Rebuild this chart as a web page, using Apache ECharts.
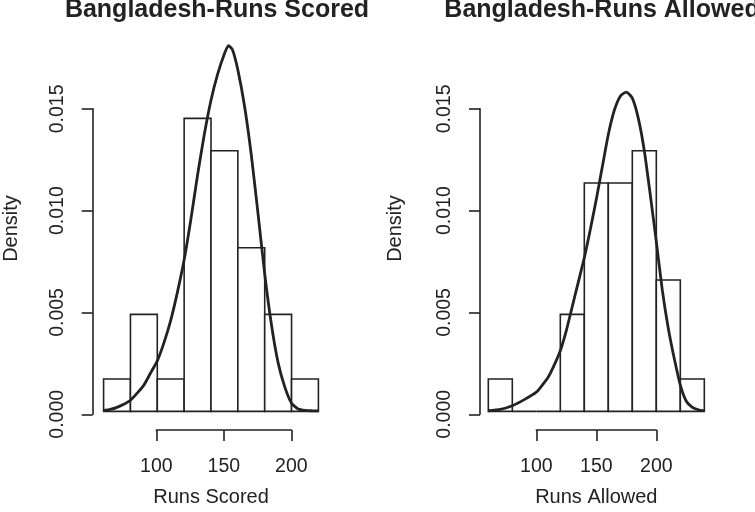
<!DOCTYPE html>
<html>
<head>
<meta charset="utf-8">
<script src="https://cdn.jsdelivr.net/npm/echarts@6/dist/echarts.min.js"></script>
<style>html,body{margin:0;padding:0;background:#fff}#c{width:755px;height:512px}</style>
</head>
<body>
<div id="c"></div>
<script>
// ---- data ----
const titles = ['Bangladesh-Runs Scored', 'Bangladesh-Runs Allowed'];
const xNames = ['Runs Scored', 'Runs Allowed'];
const yName = 'Density';

const scoredBinEdges = [60, 80, 100, 120, 140, 160, 180, 200, 220];
const scoredDensity = [0.0016, 0.0048, 0.0016, 0.0145, 0.0129, 0.0081, 0.0048, 0.0016];
const scoredCurveX = [60, 65, 70, 75, 80, 85, 90, 95, 100, 105, 110, 115, 120, 125, 130, 135, 140, 145, 150, 153, 156, 160, 165, 170, 175, 180, 185, 190, 195, 200, 205, 210, 215, 220];
const scoredCurveY = [0.00005, 0.0001, 0.0002, 0.00035, 0.00055, 0.0009, 0.0013, 0.0019, 0.0025, 0.0034, 0.0045, 0.0059, 0.0075, 0.0095, 0.0117, 0.0137, 0.0154, 0.0167, 0.0177, 0.0181, 0.0179, 0.0169, 0.0151, 0.0127, 0.0098, 0.0068, 0.0043, 0.0024, 0.0012, 0.0004, 0.00012, 0.00005, 0.00003, 0.00002];

const allowedBinEdges = [60, 80, 100, 120, 140, 160, 180, 200, 220, 240];
const allowedDensity = [0.0016, 0, 0, 0.0048, 0.0113, 0.0113, 0.0129, 0.0065, 0.0016];
const allowedCurveX = [60, 70, 80, 90, 100, 105, 110, 115, 120, 125, 130, 135, 140, 145, 150, 155, 160, 165, 170, 175, 180, 185, 190, 195, 200, 205, 210, 215, 220, 225, 230, 235, 240];
const allowedCurveY = [0.00003, 0.0001, 0.00028, 0.00058, 0.00095, 0.0013, 0.0017, 0.0023, 0.003, 0.004, 0.0052, 0.0064, 0.0076, 0.009, 0.0105, 0.0121, 0.0137, 0.0149, 0.0156, 0.0158, 0.0155, 0.0145, 0.0129, 0.0107, 0.0084, 0.006, 0.0041, 0.0026, 0.0013, 0.0005, 0.0002, 0.00008, 0.00003];

const xTickRange = [100, 200];
const xTickStep = 50;
const yTickRange = [0, 0.015];
const yTickStep = 0.005;

// ---- style ----
const INK = '#222';
const FONT = '"Liberation Sans", Arial, sans-serif';

const chart = echarts.init(document.getElementById('c'), null, {renderer: 'canvas'});

function histSeries(edges, dens, gi) {
  return {
    type: 'custom', xAxisIndex: gi, yAxisIndex: gi, clip: false, z: 2,
    data: dens.map((d, i) => [edges[i], edges[i + 1], d]),
    encode: {x: [0, 1], y: 2},
    renderItem: function (params, api) {
      const p0 = api.coord([api.value(0), 0]);
      const p1 = api.coord([api.value(1), api.value(2)]);
      return {
        type: 'rect',
        shape: {x: p0[0], y: p1[1], width: p1[0] - p0[0], height: p0[1] - p1[1]},
        style: {fill: '#fff', stroke: INK, lineWidth: 1.6}
      };
    }
  };
}
function curveSeries(xs, ys, gi) {
  return {
    type: 'line', xAxisIndex: gi, yAxisIndex: gi, z: 5,
    data: xs.map((x, i) => [x, ys[i]]),
    smooth: 0.2, symbol: 'none',
    lineStyle: {color: INK, width: 2.8}
  };
}

const panels = [
  {dataLeft: 93.7, xMin: 53.6, xMax: 226.4, axLeft: 156.3, axW: 135, yLeft: 92.7, cx: 212},
  {dataLeft: 479.66, xMin: 52.8, xMax: 247.2, axLeft: 536.3, axW: 120, yLeft: 480, cx: 597}
];
const DATA_TOP = 31, DATA_H = 398, DATA_W = 233.3;
const Y_MIN = -0.000724, Y_MAX = 0.018824;
const Y0 = 414.26, Y015 = 108.86;

const grid = [], xAxis = [], yAxis = [], series = [], title = [];
panels.forEach((p, k) => {
  const base = k * 3;
  // data grid
  grid.push({left: p.dataLeft, top: DATA_TOP, width: DATA_W, height: DATA_H});
  xAxis.push({type: 'value', gridIndex: base, min: p.xMin, max: p.xMax,
    axisLine: {show: false}, axisTick: {show: false}, axisLabel: {show: false}, splitLine: {show: false},
    name: xNames[k], nameLocation: 'middle', nameGap: 61,
    nameTextStyle: {fontFamily: FONT, fontSize: 20, color: INK}});
  yAxis.push({type: 'value', gridIndex: base, min: Y_MIN, max: Y_MAX,
    axisLine: {show: false}, axisTick: {show: false}, axisLabel: {show: false}, splitLine: {show: false},
    name: yName, nameLocation: 'middle', nameGap: 74, nameRotate: 90,
    nameTextStyle: {fontFamily: FONT, fontSize: 20, color: INK}});
  // x axis grid
  grid.push({left: p.axLeft, width: p.axW, top: 400, height: 30});
  xAxis.push({type: 'value', gridIndex: base + 1, min: xTickRange[0], max: xTickRange[1], interval: xTickStep,
    axisLine: {show: true, lineStyle: {color: INK, width: 1.6}},
    axisTick: {show: true, length: 11, lineStyle: {color: INK, width: 1.6}},
    axisLabel: {show: true, margin: 27, fontFamily: FONT, fontSize: 19.5, color: INK},
    splitLine: {show: false}});
  yAxis.push({type: 'value', gridIndex: base + 1, show: false, min: 0, max: 1});
  // y axis grid
  grid.push({left: p.yLeft, width: 40, top: Y015, height: Y0 - Y015});
  xAxis.push({type: 'value', gridIndex: base + 2, show: false, min: 0, max: 1});
  yAxis.push({type: 'value', gridIndex: base + 2, min: yTickRange[0], max: yTickRange[1], interval: yTickStep,
    axisLine: {show: true, lineStyle: {color: INK, width: 1.6}},
    axisTick: {show: true, length: 11, lineStyle: {color: INK, width: 1.6}},
    axisLabel: {show: true, rotate: 90, margin: 25, fontFamily: FONT, fontSize: 19.5, color: INK,
      formatter: v => v.toFixed(3)},
    splitLine: {show: false}});
  title.push({text: titles[k], left: p.cx, top: -7, textAlign: 'center',
    textStyle: {fontFamily: FONT, fontSize: 25, fontWeight: 'bold', color: INK}});
});

series.push(histSeries(scoredBinEdges, scoredDensity, 0));
series.push(curveSeries(scoredCurveX, scoredCurveY, 0));
series.push(histSeries(allowedBinEdges, allowedDensity, 3));
series.push(curveSeries(allowedCurveX, allowedCurveY, 3));

chart.setOption({
  backgroundColor: '#fff',
  animation: false,
  title: title,
  grid: grid,
  xAxis: xAxis,
  yAxis: yAxis,
  series: series
});
</script>
</body>
</html>
